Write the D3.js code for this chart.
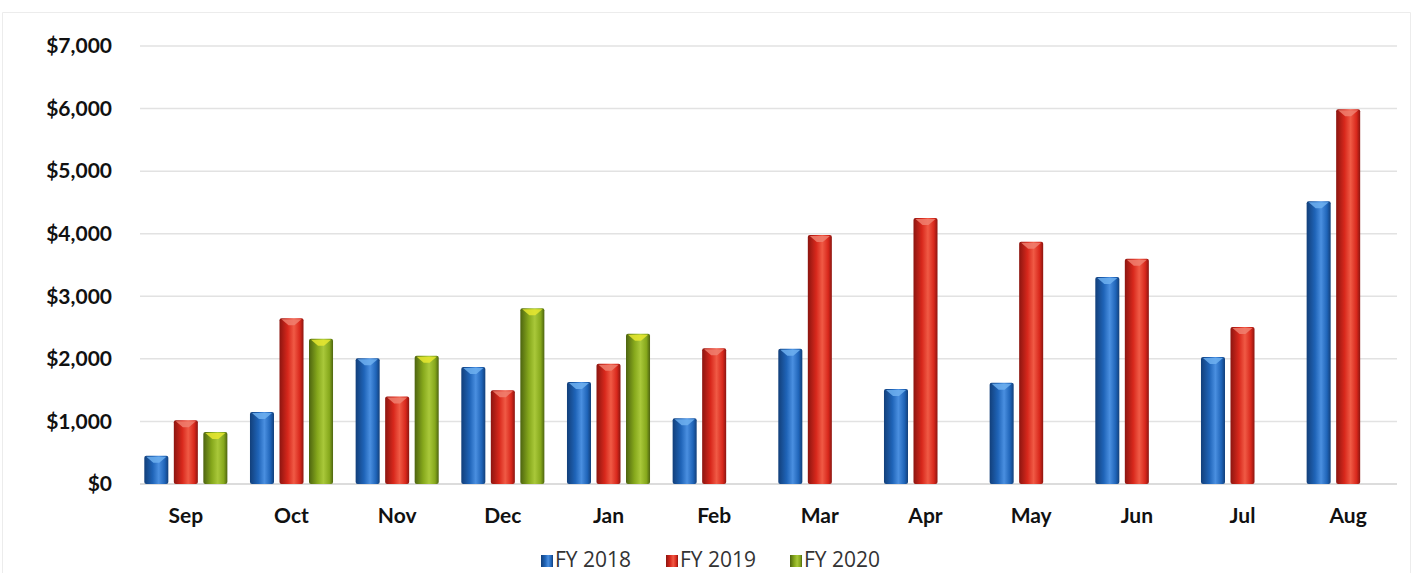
<!DOCTYPE html>
<html><head><meta charset="utf-8">
<script src="https://cdn.jsdelivr.net/npm/d3@7"></script>
<style>body{margin:0;background:#fff}svg{display:block}</style>
</head><body>
<script>
const categories = ["Sep","Oct","Nov","Dec","Jan","Feb","Mar","Apr","May","Jun","Jul","Aug"];
const seriesNames = ["FY 2018","FY 2019","FY 2020"];
const fy2018 = [450,1150,2010,1870,1630,1050,2160,1520,1620,3310,2030,4520];
const fy2019 = [1020,2650,1400,1500,1920,2170,3980,4250,3870,3600,2510,5990];
const fy2020 = [830,2320,2050,2810,2400,null,null,null,null,null,null,null];
const yTicks = [0,1000,2000,3000,4000,5000,6000,7000];

const W=1421,H=573;
const svg=d3.select("body").append("svg").attr("width",W).attr("height",H);
const defs=svg.append("defs");
const colors=[
  {dark:"#123f7a",mid:"#1f64b8",light:"#4a8fe0",cap:"#6fb0f0"},
  {dark:"#8c1510",mid:"#d8281c",light:"#f05a45",cap:"#f08070"},
  {dark:"#4d6410",mid:"#86a81c",light:"#a9c83a",cap:"#e8e830"}
];
colors.forEach((c,i)=>{
  const g=defs.append("linearGradient").attr("id","g"+i).attr("x1","0").attr("x2","1").attr("y1","0").attr("y2","0");
  g.append("stop").attr("offset","0%").attr("stop-color",c.dark);
  g.append("stop").attr("offset","35%").attr("stop-color",c.mid);
  g.append("stop").attr("offset","60%").attr("stop-color",c.light);
  g.append("stop").attr("offset","85%").attr("stop-color",c.mid);
  g.append("stop").attr("offset","100%").attr("stop-color",c.dark);
});

// faint frame (top and sides only)
svg.append("path").attr("d","M2.5,573 V12.5 H1410.5 V573").attr("fill","none").attr("stroke","#ececec");

const x0=d3.scaleBand().domain(categories).range([133,1401]).paddingInner(0.214).paddingOuter(0.107);
const x1=d3.scaleBand().domain([0,1,2]).range([0,x0.bandwidth()]).paddingInner(0.186);
const y=d3.scaleLinear().domain([0,7000]).range([484,46]);

// grid
svg.append("g").selectAll("line").data(yTicks).join("line")
  .attr("x1",140).attr("x2",1397).attr("y1",d=>y(d)).attr("y2",d=>y(d))
  .attr("stroke",d=>d===0?"#d0d0d0":"#e2e2e2").attr("stroke-width",1.5);

const fmt=d=>"$"+d3.format(",")(d);
const yAxis=svg.append("g").attr("transform","translate(112,0)")
  .call(d3.axisLeft(y).tickValues(yTicks).tickFormat(fmt).tickSize(0).tickPadding(0));
yAxis.select(".domain").remove();
yAxis.selectAll("text").attr("font-family","Lato, 'Open Sans', sans-serif").attr("font-weight","bold").attr("font-size",21).attr("fill","#111");

const xAxis=svg.append("g").attr("transform","translate(0,508)")
  .call(d3.axisBottom(x0).tickSize(0).tickPadding(0));
xAxis.select(".domain").remove();
xAxis.selectAll("text").attr("font-family","Lato, 'Open Sans', sans-serif").attr("font-weight","bold").attr("font-size",21).attr("fill","#111").attr("dy","0.7em");

const series=[fy2018,fy2019,fy2020];
const data=[];
categories.forEach((c,i)=>series.forEach((s,k)=>{ if(s[i]!=null) data.push({c,k,v:s[i]}); }));
const bars=svg.append("g").selectAll("g").data(data).join("g");
bars.append("rect")
  .attr("x",d=>x0(d.c)+x1(d.k)).attr("width",x1.bandwidth())
  .attr("y",d=>y(d.v)).attr("height",d=>y(0)-y(d.v))
  .attr("rx",2).attr("fill",d=>`url(#g${d.k})`);
// top cap
bars.append("path").attr("d",d=>{
  const xl=x0(d.c)+x1(d.k), w=x1.bandwidth(), t=y(d.v);
  return `M${xl+2},${t+1} L${xl+w-2},${t+1} L${xl+w/2+3},${t+7} L${xl+w/2-3},${t+7} Z`;
}).attr("fill",d=>colors[d.k].cap).attr("opacity",0.85);

// legend
const lg=svg.append("g").attr("transform","translate(541,560)");
const offs=[0,125,249];
seriesNames.forEach((n,i)=>{
  const g=lg.append("g").attr("transform",`translate(${offs[i]},0)`);
  g.append("rect").attr("x",0).attr("y",-5).attr("width",12).attr("height",12).attr("fill",`url(#g${i})`);
  g.append("text").attr("x",14).attr("y",0).attr("dy","0.35em").text(n)
    .attr("font-family","'Open Sans', sans-serif").attr("font-size",21).attr("fill","#333");
});
</script>
</body></html>
